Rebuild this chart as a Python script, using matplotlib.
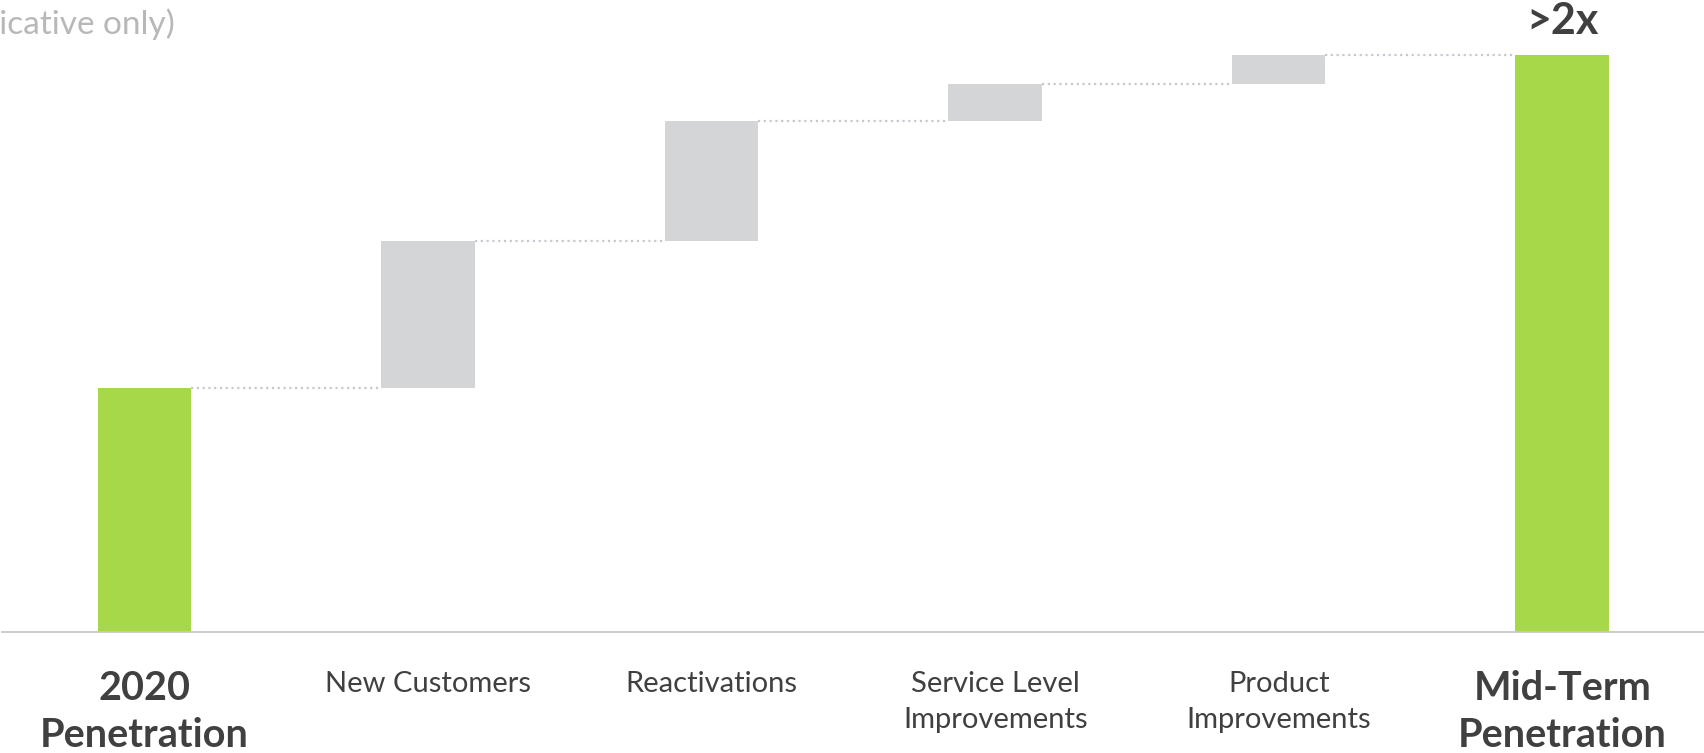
import matplotlib.pyplot as plt
from matplotlib.transforms import blended_transform_factory

# data (relative)
categories = ['2020\nPenetration', 'New Customers', 'Reactivations',
              'Service Level\nImprovements', 'Product\nImprovements', 'Mid-Term\nPenetration']
start_value = 24.4
steps = [14.7, 12.0, 3.7, 2.9]
total_label = '>2x'
note = '(indicative only)'

green = '#a6d84a'
grey = '#d4d5d7'
dark = '#404040'

plt.rcParams['font.family'] = ['Lato', 'DejaVu Sans']

fig = plt.figure(figsize=(17.04, 7.53), dpi=100)
ax = fig.add_axes([2 / 1704, 121 / 753, 1 - 2 / 1704, 632 / 753])

w = 0.33
total = start_value + sum(steps)

# start bar
ax.bar(0, start_value, width=w, color=green)
# increments
level = start_value
levels = [start_value]
for i, s in enumerate(steps, start=1):
    ax.bar(i, s, bottom=level, width=w, color=grey)
    level += s
    levels.append(level)
# end bar
n = len(categories)
ax.bar(n - 1, total, width=w, color=green)

# dotted connectors
for i, lv in enumerate(levels):
    ax.plot([i + w / 2, i + 1 - w / 2], [lv, lv], color='#c8c8d0',
            lw=1.6, linestyle=(0, (1, 1.6)))

ax.text(n - 1, total + 2.1, total_label, ha='center', va='baseline',
        fontsize=31, fontweight='bold', color=dark)

ax.set_xlim(-0.503, n - 0.5)
ax.set_ylim(0, 63.2)

for side in ['left', 'right', 'top']:
    ax.spines[side].set_visible(False)
ax.spines['bottom'].set_color('#c8c8c8')
ax.spines['bottom'].set_linewidth(1.3)
ax.set_xticks([])
ax.set_yticks([])

trans = blended_transform_factory(ax.transData, ax.transAxes)
for i, c in enumerate(categories):
    bold = i == 0 or i == n - 1
    if bold:
        ax.text(i, -0.060, c, transform=trans, ha='center', va='top',
                fontsize=28.5, fontweight='bold', color=dark, linespacing=1.33)
    else:
        ax.text(i, -0.062, c, transform=trans, ha='center', va='top',
                fontsize=21, color=dark, linespacing=1.47)

fig.text(175 / 1704, 1 - 24 / 753, note, ha='right', va='center',
         fontsize=24, color='#b8b8b8')

fig.savefig('out.png', dpi=100)
